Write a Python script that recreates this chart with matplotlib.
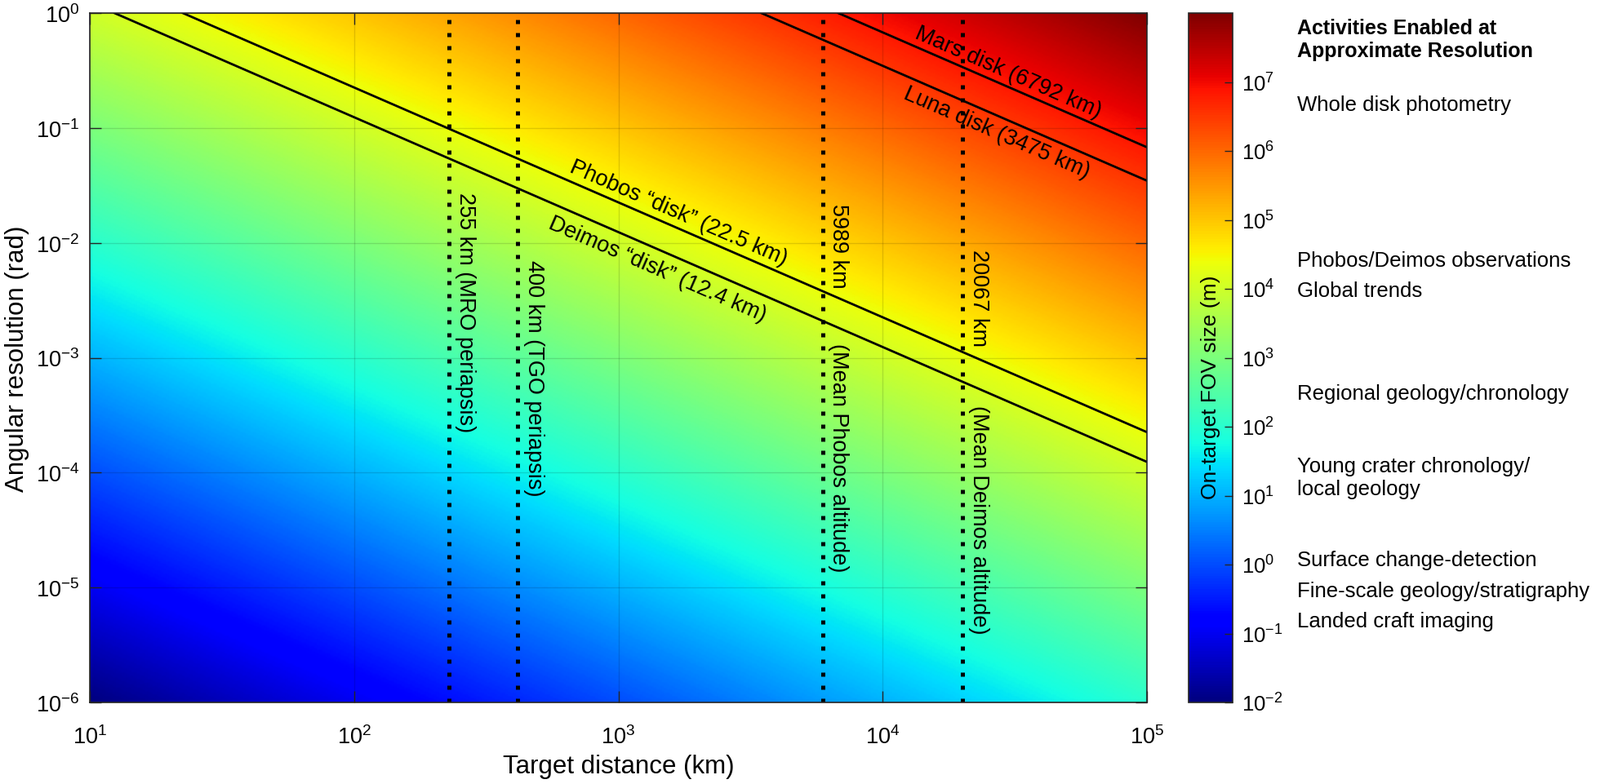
import numpy as np
import matplotlib
matplotlib.use('Agg')
import matplotlib.pyplot as plt
import matplotlib.transforms as mtransforms
from matplotlib.colors import LogNorm
from matplotlib.ticker import LogLocator, NullLocator

plt.rcParams['font.family'] = ['Liberation Sans', 'DejaVu Sans']
plt.rcParams['mathtext.fontset'] = 'custom'
plt.rcParams['mathtext.rm'] = 'Liberation Sans'
plt.rcParams['mathtext.it'] = 'Liberation Sans:italic'
plt.rcParams['mathtext.bf'] = 'Liberation Sans:bold'

# axis ranges
dist_lim = [1e1, 1e5]     # target distance (km)
res_lim = [1e-6, 1e0]     # angular resolution (rad)
fov_lim = [1e-2, 1e8]     # on-target FOV size (m)

# bodies seen as a disk: angular size = diameter / distance
disk_labels = ['Mars disk (6792 km)', 'Luna disk (3475 km)',
               'Phobos \u201cdisk\u201d (22.5 km)', 'Deimos \u201cdisk\u201d (12.4 km)']
disk_diam_km = [6792, 3475, 22.5, 12.4]
disk_label_km = [2.85e4, 2.85e4, 1.6e3, 1.5e3]
disk_label_side = [12, -14, 13, -16]   # points above (+) / below (-) the line

# reference distances (dotted lines)
ref_km = [228, 415, 5920, 20000]
ref_labels = [['255 km (MRO periapsis)'],
              ['400 km (TGO periapsis)'],
              ['5989 km', '(Mean Phobos altitude)'],
              ['20067 km', '(Mean Deimos altitude)']]
ref_label_top = [[2.8e-2], [7.2e-3], [2.2e-2, 1.35e-3], [8.8e-3, 3.9e-4]]

# activities next to the colour bar
activities = ['Whole disk photometry', 'Phobos/Deimos observations', 'Global trends',
              'Regional geology/chronology', 'Young crater chronology/\nlocal geology',
              'Surface change-detection', 'Fine-scale geology/stratigraphy',
              'Landed craft imaging']
activity_fov = [10**6.68, 10**4.42, 10**3.98, 10**2.48, 10**1.27, 10**0.07, 10**-0.38, 10**-0.82]

fig = plt.figure(figsize=(19.6, 9.62), dpi=100)
ax = fig.add_axes([110/1960, 1-862/962, 1295/1960, 845/962])
cax = fig.add_axes([1456/1960, 1-862/962, 54/1960, 845/962])

# FOV field = distance * angle
d = np.logspace(np.log10(dist_lim[0]), np.log10(dist_lim[1]), 400)
r = np.logspace(np.log10(res_lim[0]), np.log10(res_lim[1]), 400)
D, R = np.meshgrid(d, r)
fov = D * 1000 * R
norm = LogNorm(vmin=fov_lim[0], vmax=fov_lim[1])
mesh = ax.pcolormesh(D, R, fov, cmap='jet', norm=norm, shading='gouraud', zorder=0)

ax.set_xscale('log')
ax.set_yscale('log')
ax.set_xlim(dist_lim)
ax.set_ylim(res_lim)
ax.xaxis.set_major_locator(LogLocator(base=10, numticks=10))
ax.yaxis.set_major_locator(LogLocator(base=10, numticks=10))
ax.xaxis.set_minor_locator(NullLocator())
ax.yaxis.set_minor_locator(NullLocator())
ax.grid(True, which='major', color='k', alpha=0.13, lw=1)
ax.tick_params(which='major', direction='in', top=True, right=True, length=10,
               width=1, color='0.15', labelsize=19.5)
ax.tick_params(axis='x', pad=20)
ax.tick_params(axis='y', pad=9)
for s in ax.spines.values():
    s.set_color('0.15')
    s.set_linewidth(1.2)
ax.set_xlabel('Target distance (km)', fontsize=22.5, labelpad=5)
ax.set_ylabel('Angular resolution (rad)', fontsize=22.5, labelpad=6)

# disk lines
p0 = ax.transData.transform((1e2, 1.0))
p1 = ax.transData.transform((1e3, 0.1))
ang = np.degrees(np.arctan2(p1[1] - p0[1], p1[0] - p0[0]))
nx, ny = -np.sin(np.radians(ang)), np.cos(np.radians(ang))
for lab, dia, xl, k in zip(disk_labels, disk_diam_km, disk_label_km, disk_label_side):
    xx = np.logspace(np.log10(dia), np.log10(dist_lim[1]), 50)
    ax.plot(xx, dia / xx, color='k', lw=2)
    ax.annotate(lab, xy=(xl, dia / xl), xytext=(k * nx, k * ny), textcoords='offset points',
                rotation=ang, rotation_mode='anchor', ha='center', va='center',
                fontsize=19.5)

# reference distances
for xk, labs, tops in zip(ref_km, ref_labels, ref_label_top):
    ax.plot([xk, xk], res_lim, color='k', lw=3.6, linestyle=(0, (1, 2.2)),
            solid_capstyle='butt', dash_capstyle='butt')
    for lab, yt in zip(labs, tops):
        ax.annotate(lab, xy=(xk, yt), xytext=(5, 0), textcoords='offset points',
                    rotation=-90, ha='left', va='top', fontsize=19.5)

# colour bar
cb = fig.colorbar(mesh, cax=cax)
cb.set_ticks([10.0**k for k in range(-2, 8)])
cb.ax.yaxis.set_minor_locator(NullLocator())
cb.ax.tick_params(direction='in', length=7, width=1, color='0.15', labelsize=18.5, pad=8)
cb.outline.set_edgecolor('0.15')
cb.outline.set_linewidth(1.2)
cax.text(0.5, 0.458, 'On-target FOV size (m)', transform=cax.transAxes, rotation=90,
         ha='center', va='center', fontsize=19)

tr = mtransforms.blended_transform_factory(fig.transFigure, cax.transData)
fig.text(1589/1960, 1-49/962, 'Activities Enabled at\nApproximate Resolution',
         ha='left', va='center', fontsize=18, fontweight='bold', linespacing=1.2)
for lab, v in zip(activities, activity_fov):
    fig.text(1589/1960, v, lab, transform=tr, ha='left', va='center',
             fontsize=18.5, linespacing=1.2)

fig.savefig('out.png', dpi=100)
